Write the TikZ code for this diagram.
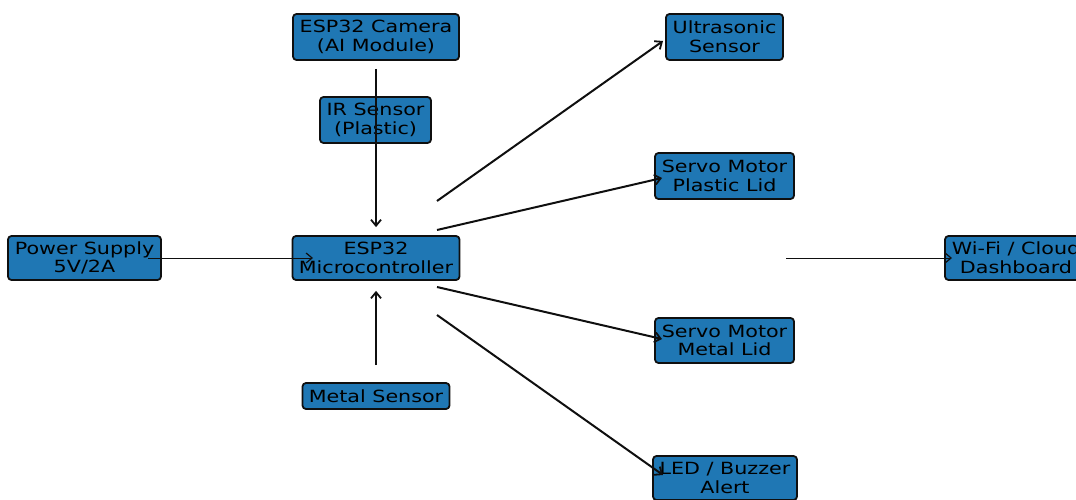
\documentclass[tikz,border=0pt]{standalone}
\usepackage{fontspec}
\setmainfont{DejaVu Sans}
\usetikzlibrary{arrows.meta}
\definecolor{boxblue}{RGB}{31,119,180}
\definecolor{edgek}{RGB}{15,15,15}
\tikzset{
  blk/.style={draw=edgek, line width=1.8pt, fill=boxblue, rounded corners=3.5pt,
    inner sep=0pt, align=center, font=\fontsize{16.8}{18.7}\selectfont},
  conn/.style={draw=edgek, line width=2pt, -{Straight Barb[length=6pt,width=10pt,line width=1.8pt]}},
  thinconn/.style={draw=edgek, line width=0.8pt, -{Straight Barb[length=6pt,width=10pt,line width=1.2pt]}}
}
\newcommand{\wtxt}[1]{\scalebox{1.23}[1]{#1}}
\begin{document}
\begin{tikzpicture}[x=1pt,y=-1pt]
\useasboundingbox (0,0) rectangle (1076,500);
\clip (0,0) rectangle (1076,500);
\node[blk, minimum width=166pt, minimum height=46pt] (cam) at (376,37) {\wtxt{ESP32 Camera}\\\wtxt{(AI Module)}};
\node[blk, minimum width=111pt, minimum height=46pt] (ir) at (375.5,120) {\wtxt{IR Sensor}\\\wtxt{(Plastic)}};
\node[blk, minimum width=117pt, minimum height=46pt] (ultra) at (724.5,37) {\wtxt{Ultrasonic}\\\wtxt{Sensor}};
\node[blk, minimum width=139pt, minimum height=46pt] (splastic) at (724.5,176) {\wtxt{Servo Motor}\\\wtxt{Plastic Lid}};
\node[blk, minimum width=153pt, minimum height=44pt] (power) at (84.5,258) {\wtxt{Power Supply}\\\wtxt{5V/2A}};
\node[blk, minimum width=167pt, minimum height=44pt] (micro) at (376,258) {\wtxt{ESP32}\\\wtxt{Microcontroller}};
\node[blk, minimum width=142pt, minimum height=44pt] (wifi) at (1016,258) {\wtxt{Wi-Fi / Cloud}\\\wtxt{Dashboard}};
\node[blk, minimum width=139pt, minimum height=45pt] (smetal) at (724.5,340.5) {\wtxt{Servo Motor}\\\wtxt{Metal Lid}};
\node[blk, minimum width=147pt, minimum height=26pt] (metal) at (376,396) {\wtxt{Metal Sensor}};
\node[blk, minimum width=144pt, minimum height=44pt] (led) at (725,478) {\wtxt{LED / Buzzer}\\\wtxt{Alert}};
\coordinate (hub) at (724.5,258);
% connectors
\draw[conn] ([yshift=-8pt]cam.south) -- ([yshift=8pt]micro.north);
\draw[conn] ([yshift=17pt]metal.north) -- ([yshift=-10pt]micro.south);
\draw[thinconn] ([xshift=63.5pt]power.center) -- ([xshift=-63pt]micro.center);
\draw[thinconn] ([xshift=61.5pt]hub) -- ([xshift=-64pt]wifi.center);
\draw[conn] ([shift={(61,-57)}]micro.center) -- ([shift={(-61.5,4)}]ultra.center);
\draw[conn] ([shift={(61,-28)}]micro.center) -- ([shift={(-62.5,2)}]splastic.center);
\draw[conn] ([shift={(61,29)}]micro.center) -- ([shift={(-62.5,-1.5)}]smetal.center);
\draw[conn] ([shift={(61,57)}]micro.center) -- ([shift={(-62,-3)}]led.center);
\end{tikzpicture}
\end{document}
